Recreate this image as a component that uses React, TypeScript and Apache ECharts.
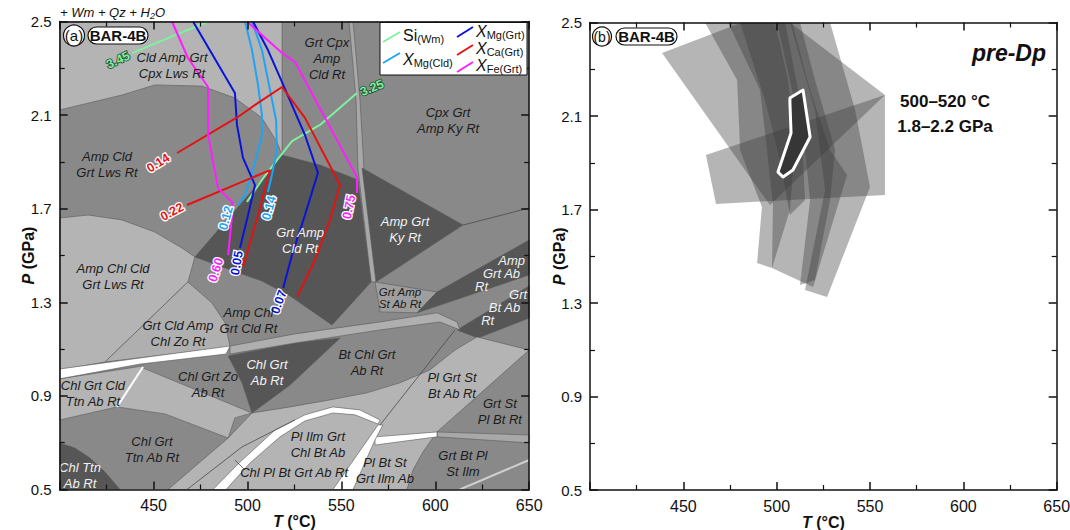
import React, { useEffect, useRef } from 'react';
import * as echarts from 'echarts';

const FONT = '"Liberation Sans", Arial, Helvetica, sans-serif';

// axis ranges
const T_MIN = 400, T_MAX = 650, T_STEP = 50;
const P_MIN = 0.5, P_MAX = 2.5, P_STEP = 0.4;

// ---- Panel (a): pseudosection fields, [T (°C), P (GPa)] vertices ----
type Field = { name: string; tone: string; pts: number[][] };
const FIELDS: Field[] = [
  { name: 'Cld Amp Grt Cpx Lws Rt', tone: 'light', pts: [[400,2.5],[518.4,2.5],[518.4,1.929],[515.7,1.985],[507.7,2.088],[493.3,2.173],[475.8,2.224],[450.7,2.229],[433.2,2.186],[400,2.122]] },
  { name: 'sliver', tone: 'pale', pts: [[554.1,2.5],[556.2,2.5],[559.9,2.165],[562.0,1.874],[569.0,1.387],[565.8,1.387],[558.8,1.874],[557.8,2.165]] },
  { name: 'Grt Amp Cld Rt', tone: 'dark', pts: [[512.0,1.865],[518.4,1.929],[538.6,1.887],[558.8,1.823],[565.8,1.387],[545.0,1.203],[522.7,1.327],[507.7,1.391],[489.7,1.442],[472.0,1.494]] },
  { name: 'Amp Grt Ky Rt', tone: 'dark', pts: [[561.0,1.874],[614.7,1.630],[568.4,1.387]] },
  { name: 'Grt Amp St Ab Rt', tone: 'semi', pts: [[567.9,1.387],[600.9,1.344],[590.3,1.255],[570.6,1.259]] },
  { name: 'Amp Grt Ab Rt', tone: 'dark', pts: [[600.9,1.344],[650,1.566],[650,1.417],[590.3,1.255]] },
  { name: 'Grt Bt Ab Rt', tone: 'dark', pts: [[611.6,1.182],[650,1.370],[650,1.233],[622.7,1.147]] },
  { name: 'Amp Chl Cld Grt Lws Rt', tone: 'light', pts: [[400,1.660],[415.1,1.673],[433.2,1.652],[450.7,1.600],[465.1,1.532],[472.0,1.494],[468.3,1.387],[424.1,1.045],[400,1.011]] },
  { name: 'Grt Cld Amp Chl Zo Rt', tone: 'light2', pts: [[468.3,1.387],[481.1,1.297],[488.1,1.212],[490.7,1.109],[424.1,1.045]] },
  { name: 'lower light fields', tone: 'light', pts: [[457.7,0.5],[489.7,0.720],[502.4,0.827],[522.7,0.853],[543.9,0.883],[563.6,0.913],[581.2,0.956],[597.1,1.011],[610.5,1.096],[622.2,1.152],[650,1.096],[600.9,0.746],[593.4,0.660],[588.1,0.583],[584.9,0.5]] },
  { name: 'Chl Grt Ab Rt', tone: 'dark', pts: [[489.7,1.071],[525.3,1.126],[549.3,1.147],[522.7,0.947],[502.4,0.827],[497.1,0.956]] },
  { name: 'light strip', tone: 'light', pts: [[444.4,1.019],[502.4,0.827],[493.3,0.806],[489.7,0.720],[456.1,0.823],[430.5,0.853]] },
  { name: 'Chl Grt Cld Ttn Ab Rt', tone: 'light', pts: [[400,0.973],[444.4,1.028],[430.5,0.853],[400,0.797]] },
  { name: 'Chl Ttn Ab Rt', tone: 'dark', pts: [[400,0.699],[408.1,0.677],[416.1,0.635],[424.1,0.575],[432.1,0.5],[400,0.5]] },
  { name: 'right band', tone: 'pale', pts: [[600.9,0.746],[650,0.733],[650,0.699],[600.9,0.725]] },
  { name: 'white band', tone: 'white', pts: [[400,1.015],[442.8,1.062],[490.7,1.113],[488.6,1.079],[442.8,1.036],[400,0.973]] },
  { name: 'reaction band', tone: 'light2', pts: [[490.7,1.113],[525.3,1.165],[570.6,1.216],[600.9,1.255],[611.6,1.216],[613.1,1.182],[602.5,1.216],[570.6,1.182],[525.3,1.126],[490.7,1.079]] },
  { name: 'white strip', tone: 'white', pts: [[567.9,0.725],[600.9,0.746],[600.9,0.725],[567.9,0.690]] },
  { name: 'white wedge', tone: 'white', pts: [[545.5,0.5],[569.5,0.776],[572.1,0.776],[567.9,0.712],[556.2,0.5]] },
  { name: 'white dome', tone: 'white', pts: [[481.6,0.5],[496.0,0.617],[514.6,0.754],[530.6,0.819],[545.5,0.853],[559.9,0.840],[570.6,0.797],[569.5,0.780],[557.2,0.819],[545.5,0.827],[530.6,0.793],[517.3,0.725],[501.3,0.613],[488.6,0.5]] },
];

const BOUNDARIES: { kind: string; pts: number[][] }[] = [
  { kind: 'line', pts: [[614.7,1.630],[650,1.703]] },
  { kind: 'line', pts: [[467.8,0.5],[497.1,0.682],[525.3,0.797]] },
  { kind: 'line', pts: [[570.6,0.776],[610.5,1.182]] },
  { kind: 'line', pts: [[493.3,0.626],[498.7,0.583]] },
  { kind: 'pale', pts: [[613.1,0.5],[650,0.626]] },
  { kind: 'white', pts: [[444.4,1.024],[430.5,0.853]] },
];

// ---- isopleths ----
type Iso = { group: string; value: string; pts: number[][]; at: number[]; angle: number };
const ISOPLETHS: Iso[] = [
  { group: 'Si', value: '3.45', pts: [[438.5,2.365],[479.0,2.5]], at: [431.1,2.335], angle: 25 },
  { group: 'Si', value: '3.25', pts: [[499.7,1.729],[507.7,1.823],[515.7,1.908],[523.7,1.989],[538.6,2.058],[558.3,2.194]], at: [566.3,2.216], angle: 22 },
  { group: 'XMgCld', value: '0.12', pts: [[498.7,2.5],[502.4,2.378],[505.6,2.229],[507.7,2.1],[507.7,2.015],[502.9,1.865],[498.7,1.759],[494.9,1.716]], at: [488.6,1.660], angle: 75 },
  { group: 'XMgCld', value: '0.14', pts: [[502.4,2.5],[507.7,2.378],[512.0,2.207],[515.2,2.079],[515.7,1.951],[513.0,1.844],[510.9,1.771]], at: [511.5,1.703], angle: 75 },
  { group: 'XMgGrt', value: '0.05', pts: [[471.0,2.5],[493.3,2.194],[494.4,2.058],[497.6,1.917],[504.0,1.801],[500.3,1.673],[496.0,1.532]], at: [494.4,1.468], angle: 80 },
  { group: 'XMgGrt', value: '0.07', pts: [[502.9,2.5],[510.9,2.378],[518.4,2.241],[525.3,2.113],[530.6,2.015],[537.5,1.853],[530.6,1.673],[523.7,1.502],[519.0,1.361]], at: [516.7,1.301], angle: 70 },
  { group: 'XCa', value: '0.14', pts: [[462.5,1.938],[494.9,2.092],[505.6,2.152],[518.4,2.220],[530.6,2.088],[549.3,1.801],[543.9,1.652],[535.9,1.481],[526.4,1.323]], at: [452.4,1.895], angle: 32 },
  { group: 'XCa', value: '0.22', pts: [[467.8,1.716],[512.0,1.865],[505.6,1.673],[497.6,1.451]], at: [459.8,1.686], angle: 28 },
  { group: 'XFe', value: '0.60', pts: [[459.8,2.5],[468.3,2.344],[479.0,2.220],[479.0,2.015],[484.3,1.788],[491.8,1.729],[491.8,1.673],[489.7,1.502]], at: [483.2,1.438], angle: 72 },
  { group: 'XFe', value: '0.75', pts: [[499.7,2.5],[518.4,2.365],[525.3,2.327],[558.3,1.835],[558.3,1.767]], at: [554.1,1.707], angle: 78 },
];

// ---- field labels [T, P] ----
type FL = { text: string; t: number; p: number; white?: boolean; small?: boolean };
const FIELD_LABELS: FL[] = [
  { text: 'Cld Amp Grt\nCpx Lws Rt', t: 459.8, p: 2.314 },
  { text: 'Amp Cld\nGrt Lws Rt', t: 425.2, p: 1.887 },
  { text: 'Grt Cpx\nAmp\nCld Rt', t: 542.3, p: 2.340 },
  { text: 'Cpx Grt\nAmp Ky Rt', t: 606.8, p: 2.079 },
  { text: 'Grt Amp\nCld Rt', t: 528.0, p: 1.566, white: true },
  { text: 'Amp Grt\nKy Rt', t: 583.9, p: 1.609, white: true },
  { text: 'Amp Chl Cld\nGrt Lws Rt', t: 428.4, p: 1.412 },
  { text: 'Amp Chl\nGrt Cld Rt', t: 500.5, p: 1.222 },
  { text: 'Grt Cld Amp\nChl Zo Rt', t: 463.0, p: 1.165 },
  { text: 'Chl Grt Cld\nTtn Ab Rt', t: 417.7, p: 0.912 },
  { text: 'Chl Grt Zo\nAb Rt', t: 479.0, p: 0.947 },
  { text: 'Chl Grt\nAb Rt', t: 510.4, p: 0.998, white: true },
  { text: 'Chl Grt\nTtn Ab Rt', t: 449.1, p: 0.669 },
  { text: 'Chl Ttn\nAb Rt', t: 410.8, p: 0.558, white: true },
  { text: 'Chl Pl Bt Grt Ab Rt', t: 524.8, p: 0.571 },
  { text: 'Pl Ilm Grt\nChl Bt Ab', t: 537.5, p: 0.694 },
  { text: 'Pl Bt St\nGrt Ilm Ab', t: 573.2, p: 0.583 },
  { text: 'Grt Bt Pl\nSt Ilm', t: 614.7, p: 0.613 },
  { text: 'Grt St\nPl Bt Rt', t: 634.4, p: 0.835 },
  { text: 'Pl Grt St\nBt Ab Rt', t: 608.9, p: 0.943 },
  { text: 'Bt Chl Grt\nAb Rt', t: 563.6, p: 1.041 },
  { text: 'Grt Amp\nSt Ab Rt', t: 581.2, p: 1.318, small: true },
];
// staggered labels along the narrow right-hand bands (right edge of the block at [T, P])
const EDGE_LABELS: { lines: string[]; indent: number[]; t: number; p: number }[] = [
  { lines: ['Amp', 'Grt Ab', 'Rt'], indent: [0, 5, 37], t: 647.8, p: 1.423 },
  { lines: ['Grt', 'Bt Ab', 'Rt'], indent: [0, 7, 33], t: 648.9, p: 1.276 },
];

// ---- Panel (b): isopleth uncertainty bands and best-fit field ----
const BANDS: number[][][] = [
  [[438.6,2.370],[481.4,2.5],[507.1,2.5],[558.0,2.190],[496.4,1.719]],
  [[462.1,1.933],[558.0,2.190],[558.0,1.762],[467.5,1.724]],
  [[461.6,2.5],[499.1,2.5],[506.1,2.254],[509.8,1.955],[507.1,1.698],[497.5,1.450],[489.5,1.471],[492.1,1.711],[480.4,1.955],[478.8,2.254]],
  [[473.9,2.5],[508.2,2.5],[517.9,2.211],[528.6,1.955],[537.7,1.848],[519.5,1.368],[497.5,1.450],[498.0,1.719],[494.8,1.955],[491.1,2.211]],
  [[500.2,2.5],[512.5,2.5],[520.5,2.254],[531.3,1.955],[528.6,1.741],[520.5,1.398],[512.5,1.377],[517.9,1.741],[515.2,1.955],[507.1,2.254]],
  [[507.1,2.5],[528.6,2.5],[542.0,2.126],[550.0,1.796],[527.0,1.326],[515.2,1.356],[525.9,1.783],[520.5,2.126]],
  [[480.4,2.5],[504.5,2.5],[512.5,2.168],[515.2,1.741],[507.1,1.676],[501.8,1.912],[493.7,2.168]],
];
const BEST_FIT: number[][] = [[507.1,2.177],[514.1,2.211],[517.9,2.010],[508.7,1.869],[503.4,1.839],[500.7,1.860],[507.7,2.027],[507.1,2.156]];

const TONES: Record<string, string> = {
  light: '#b4b4b4', light2: '#afafaf', pale: '#a8a8a8', semi: '#9e9e9e', dark: '#565656', white: '#ffffff',
};
const ISO_COLORS: Record<string, string> = {
  Si: '#7ff0a0', XMgCld: '#1ea4f5', XMgGrt: '#0a14d8', XCa: '#e41212', XFe: '#ff1eff',
};

const NAME_STYLE = {
  fontSize: 16, fontWeight: 'bold', color: '#111', fontFamily: FONT,
  rich: { i: { fontStyle: 'italic', fontWeight: 'bold', fontSize: 16, fontFamily: FONT, color: '#111' } },
};

function mkX(gridIndex: number, position: string, main: boolean) {
  return {
    type: 'value', gridIndex, position, min: T_MIN, max: T_MAX, interval: T_STEP, z: 10,
    axisLine: { show: true, onZero: false, lineStyle: { color: '#111', width: 1.5 } },
    axisTick: { show: true, inside: true, length: 8, lineStyle: { color: '#111', width: 1.5 } },
    minorTick: { show: true, splitNumber: 2, length: 5, lineStyle: { color: '#111', width: 1.2 } },
    splitLine: { show: false }, minorSplitLine: { show: false },
    axisLabel: { show: main, formatter: (v: number) => (v === T_MIN ? '' : String(v)), fontSize: 16, color: '#111', fontFamily: FONT, margin: 8 },
    name: main ? '{i|T} (°C)' : '', nameLocation: 'middle', nameGap: 24, nameMoveOverlap: false,
    nameTextStyle: NAME_STYLE,
  };
}
function mkY(gridIndex: number, position: string, main: boolean) {
  return {
    type: 'value', gridIndex, position, min: P_MIN, max: P_MAX, interval: P_STEP, z: 10,
    axisLine: { show: true, onZero: false, lineStyle: { color: '#111', width: 1.5 } },
    axisTick: { show: true, inside: true, length: 8, lineStyle: { color: '#111', width: 1.5 } },
    minorTick: { show: true, splitNumber: 2, length: 5, lineStyle: { color: '#111', width: 1.2 } },
    splitLine: { show: false }, minorSplitLine: { show: false },
    axisLabel: { show: main, formatter: (v: number) => v.toFixed(1), fontSize: 15, color: '#111', fontFamily: FONT, margin: 8 },
    name: main ? '{i|P} (GPa)' : '', nameLocation: 'middle', nameGap: 23, nameRotate: 90, nameMoveOverlap: false,
    nameTextStyle: NAME_STYLE,
  };
}

function buildOption() {
  const series: any[] = [];
  series.push({
    type: 'custom', name: 'fields', xAxisIndex: 0, yAxisIndex: 0, z: 1, silent: true, clip: true,
    data: FIELDS.map((f) => [f.pts[0][0], f.pts[0][1]]),
    renderItem: (params: any, api: any) => {
      const f = FIELDS[params.dataIndex];
      return { type: 'polygon', shape: { points: f.pts.map((p) => api.coord(p)) },
        style: { fill: TONES[f.tone], stroke: '#5a5a5a', lineWidth: 0.6 } };
    },
  });
  series.push({
    type: 'custom', name: 'boundaries', xAxisIndex: 0, yAxisIndex: 0, z: 2, silent: true, clip: true,
    data: BOUNDARIES.map((b) => [b.pts[0][0], b.pts[0][1]]),
    renderItem: (params: any, api: any) => {
      const b = BOUNDARIES[params.dataIndex];
      const stroke = b.kind === 'white' ? '#ffffff' : b.kind === 'pale' ? '#cfcfcf' : '#4a4a4a';
      const lw = b.kind === 'line' ? 0.8 : 2;
      return { type: 'polyline', shape: { points: b.pts.map((p) => api.coord(p)) }, style: { stroke, lineWidth: lw, fill: 'none' } };
    },
  });
  ISOPLETHS.forEach((iso) => {
    series.push({
      type: 'line', name: iso.group + ' ' + iso.value, xAxisIndex: 0, yAxisIndex: 0, z: 3, silent: true,
      data: iso.pts, showSymbol: false, symbol: 'none', clip: true,
      lineStyle: { color: ISO_COLORS[iso.group], width: 2 },
    });
  });
  series.push({
    type: 'custom', name: 'isoLabels', xAxisIndex: 0, yAxisIndex: 0, z: 4, silent: true, clip: false,
    data: ISOPLETHS.map((d) => d.at),
    renderItem: (params: any, api: any) => {
      const d = ISOPLETHS[params.dataIndex];
      const c = api.coord(d.at);
      const green = d.group === 'Si';
      return { type: 'text', x: c[0], y: c[1], rotation: (d.angle * Math.PI) / 180,
        style: { text: d.value, fill: ISO_COLORS[d.group], stroke: green ? '#2a4a32' : '#ffffff', lineWidth: green ? 1.6 : 2.6,
          fontSize: 12.5, fontWeight: 'bold', fontFamily: FONT, align: 'center', verticalAlign: 'middle', textAlign: 'center', textVerticalAlign: 'middle' } };
    },
  });
  series.push({
    type: 'custom', name: 'fieldLabels', xAxisIndex: 0, yAxisIndex: 0, z: 4, silent: true, clip: false,
    data: FIELD_LABELS.map((d) => [d.t, d.p]),
    renderItem: (params: any, api: any) => {
      const d = FIELD_LABELS[params.dataIndex];
      const c = api.coord([d.t, d.p]);
      return { type: 'text', x: c[0], y: c[1],
        style: { text: d.text, fill: d.white ? '#f2f2f2' : '#1c1c1c', fontSize: d.small ? 11.5 : 13, lineHeight: d.small ? 12 : 16,
          fontStyle: 'italic', fontFamily: FONT, align: 'center', verticalAlign: 'middle', textAlign: 'center', textVerticalAlign: 'middle' } };
    },
  });
  series.push({
    type: 'custom', name: 'edgeLabels', xAxisIndex: 0, yAxisIndex: 0, z: 4, silent: true, clip: false,
    data: EDGE_LABELS.map((d) => [d.t, d.p]),
    renderItem: (params: any, api: any) => {
      const d = EDGE_LABELS[params.dataIndex];
      const c = api.coord([d.t, d.p]);
      const rich: any = {};
      d.lines.forEach((_, i) => {
        rich['l' + i] = { fontSize: 13, fontStyle: 'italic', fontFamily: FONT, fill: '#f2f2f2', color: '#f2f2f2', lineHeight: 13, padding: [0, d.indent[i], 0, 0] };
      });
      return { type: 'text', x: c[0], y: c[1],
        style: { text: d.lines.map((l, i) => '{l' + i + '|' + l + '}').join('\n'), rich, fill: '#f2f2f2',
          fontSize: 13, fontStyle: 'italic', fontFamily: FONT, align: 'right', verticalAlign: 'middle', textAlign: 'right', textVerticalAlign: 'middle' } };
    },
  });
  // panel b
  series.push({
    type: 'custom', name: 'bands', xAxisIndex: 2, yAxisIndex: 2, z: 1, silent: true, clip: true,
    data: BANDS.map((b) => [b[0][0], b[0][1]]),
    renderItem: (params: any, api: any) => {
      const b = BANDS[params.dataIndex];
      return { type: 'polygon', shape: { points: b.map((p) => api.coord(p)) }, style: { fill: 'rgba(60,60,60,0.38)', stroke: 'none' } };
    },
  });
  series.push({
    type: 'custom', name: 'bestFit', xAxisIndex: 2, yAxisIndex: 2, z: 3, silent: true, clip: true,
    data: [[BEST_FIT[0][0], BEST_FIT[0][1]]],
    renderItem: (params: any, api: any) => ({
      type: 'polygon', shape: { points: BEST_FIT.map((p) => api.coord(p)) },
      style: { fill: '#363636', stroke: '#ffffff', lineWidth: 3, lineJoin: 'round' },
    }),
  });

  const txt = (x: number, y: number, text: string, extra: any) => ({
    type: 'text', x, y, z: 101,
    style: { text, fontFamily: FONT, fill: '#111', align: 'left', verticalAlign: 'middle', textAlign: 'left', textVerticalAlign: 'middle', ...extra },
  });
  const subRich = {
    m: { fontSize: 16, fontFamily: FONT, fill: '#111', color: '#111', lineHeight: 18 },
    mi: { fontSize: 16, fontFamily: FONT, fill: '#111', color: '#111', lineHeight: 18, fontStyle: 'italic' },
    s: { fontSize: 11, fontFamily: FONT, fill: '#111', color: '#111', lineHeight: 11, verticalAlign: 'bottom' },
  };
  const legendRows = [
    { x1: 383, y1: 42, x2: 400, y2: 32, c: ISO_COLORS.Si, tx: 403, ty: 35, text: '{m|Si}{s|(Wm)}' },
    { x1: 383, y1: 63, x2: 400, y2: 53, c: ISO_COLORS.XMgCld, tx: 403, ty: 59, text: '{mi|X}{s|Mg(Cld)}' },
    { x1: 457, y1: 37, x2: 473, y2: 27, c: ISO_COLORS.XMgGrt, tx: 476, ty: 31, text: '{mi|X}{s|Mg(Grt)}' },
    { x1: 457, y1: 55, x2: 473, y2: 45, c: ISO_COLORS.XCa, tx: 476, ty: 48, text: '{mi|X}{s|Ca(Grt)}' },
    { x1: 457, y1: 72, x2: 473, y2: 62, c: ISO_COLORS.XFe, tx: 476, ty: 65, text: '{mi|X}{s|Fe(Grt)}' },
  ];
  const graphic: any[] = [
    { type: 'rect', z: 100, shape: { x: 380, y: 22.5, width: 147, height: 52.5 }, style: { fill: '#fff', stroke: '#111', lineWidth: 1 } },
    ...legendRows.flatMap((r) => [
      { type: 'line', z: 101, shape: { x1: r.x1, y1: r.y1, x2: r.x2, y2: r.y2 }, style: { stroke: r.c, lineWidth: 2 } },
      txt(r.tx, r.ty, r.text, { rich: subRich }),
    ]),
    txt(60, 12, '{a|+ Wm + Qz + H}{s|2}{a|O}', { rich: {
      a: { fontSize: 13, fontStyle: 'italic', fontFamily: FONT, fill: '#111', color: '#111', lineHeight: 16 },
      s: { fontSize: 9, fontStyle: 'italic', fontFamily: FONT, fill: '#111', color: '#111', lineHeight: 9, verticalAlign: 'bottom' } } }),
    // panel tags
    { type: 'circle', z: 100, shape: { cx: 74, cy: 35.5, r: 10.5 }, style: { fill: '#fff', stroke: '#111', lineWidth: 1.2 } },
    txt(74, 35.5, '(a)', { fontSize: 15, align: 'center', textAlign: 'center' }),
    { type: 'rect', z: 100, shape: { x: 88, y: 27, width: 60, height: 17, r: 8.5 }, style: { fill: '#fff', stroke: '#111', lineWidth: 1.2 } },
    txt(118, 35.5, 'BAR-4B', { fontSize: 15, fontWeight: 'bold', align: 'center', textAlign: 'center' }),
    { type: 'circle', z: 100, shape: { cx: 602, cy: 36.5, r: 9.5 }, style: { fill: '#fff', stroke: '#111', lineWidth: 1.2 } },
    txt(602, 36.5, '(b)', { fontSize: 14, align: 'center', textAlign: 'center' }),
    { type: 'rect', z: 100, shape: { x: 616, y: 28, width: 61, height: 17, r: 8.5 }, style: { fill: '#fff', stroke: '#111', lineWidth: 1.2 } },
    txt(646.5, 36.5, 'BAR-4B', { fontSize: 15, fontWeight: 'bold', align: 'center', textAlign: 'center' }),
    txt(1046, 53, 'pre-Dp', { fontSize: 23, fontWeight: 'bold', fontStyle: 'italic', align: 'right', textAlign: 'right' }),
    txt(945, 101, '500–520 °C', { fontSize: 17, fontWeight: 'bold', align: 'center', textAlign: 'center' }),
    txt(945, 126, '1.8–2.2 GPa', { fontSize: 17, fontWeight: 'bold', align: 'center', textAlign: 'center' }),
  ];

  return {
    animation: false,
    backgroundColor: '#ffffff',
    grid: [
      { left: 59.7, top: 21.5, width: 469.5, height: 468, show: true, backgroundColor: '#898989', borderWidth: 0, containLabel: false, outerBoundsMode: 'none' },
      { left: 590, top: 22.5, width: 466.7, height: 467.5, show: true, backgroundColor: '#ffffff', borderWidth: 0, containLabel: false, outerBoundsMode: 'none' },
    ],
    xAxis: [mkX(0, 'bottom', true), mkX(0, 'top', false), mkX(1, 'bottom', true), mkX(1, 'top', false)],
    yAxis: [mkY(0, 'left', true), mkY(0, 'right', false), mkY(1, 'left', true), mkY(1, 'right', false)],
    series,
    graphic,
  };
}

export default function App() {
  const ref = useRef<HTMLDivElement>(null);
  useEffect(() => {
    if (!ref.current) return;
    const chart = echarts.init(ref.current, undefined, { renderer: 'svg' });
    chart.setOption(buildOption() as any);
    return () => chart.dispose();
  }, []);
  return <div ref={ref} style={{ position: 'fixed', left: 0, top: 0, width: 1070, height: 530, background: '#fff' }} />;
}
